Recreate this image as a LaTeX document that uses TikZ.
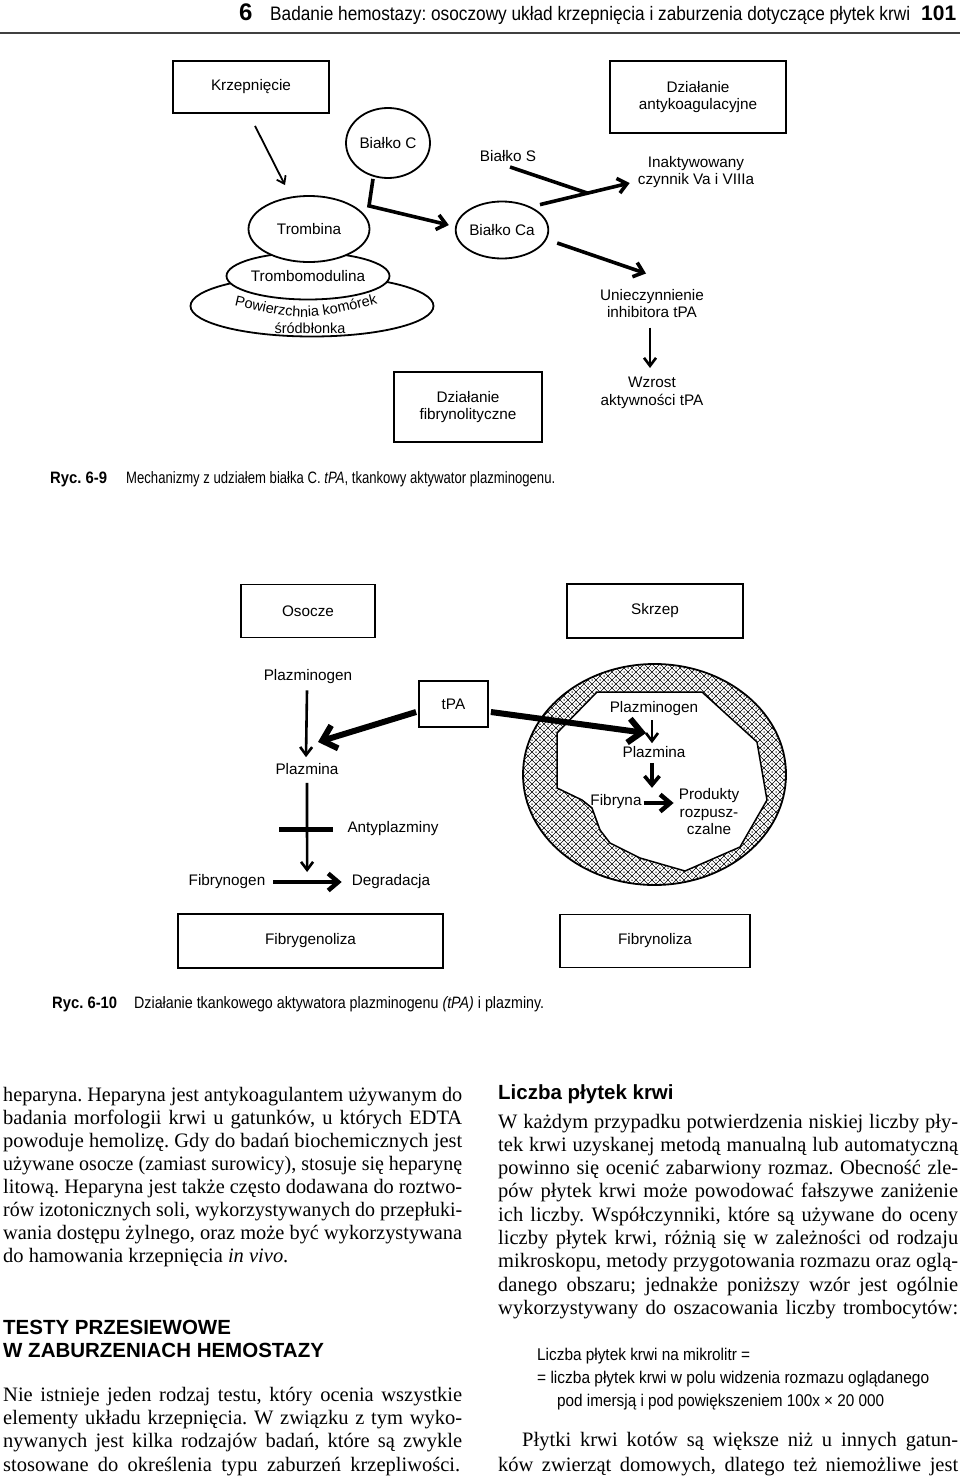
\documentclass[tikz,border=0pt]{standalone}
\usepackage{fontspec}
\usepackage{graphicx}
\setmainfont{Liberation Serif}
\newfontfamily\hv{Liberation Sans}
\usetikzlibrary{shapes.geometric,arrows.meta,calc,decorations.text}
\newcommand\dfont{\hv\fontsize{15.3}{17.5}\selectfont}
\newcommand\cfont{\hv\fontsize{14.5}{17}\selectfont}
\newcommand\bodyf{\rmfamily\fontsize{20.5}{23}\selectfont\frenchspacing}
\newcommand\headf{\hv\bfseries\fontsize{20.5}{23}\selectfont}
\newcommand\capf{\hv\fontsize{16.5}{18}\selectfont}
\newcommand\formf{\hv\fontsize{17}{19}\selectfont}
\newsavebox\lnbox
\newcommand\fitline[2]{\sbox\lnbox{#2}\ifdim\wd\lnbox>#1\relax\resizebox{#1}{\height}{\usebox\lnbox}\else\makebox[#1][s]{#2}\fi}
\newcommand\JL[4]{\node[anchor=base west,inner sep=0,font=\bodyf] (#1) at (#2) {\fitline{#3}{#4}};}
\newcommand\FL[4]{\node[anchor=base west,inner sep=0] (#1) at (#2) {\resizebox{#3}{\height}{#4}};}
\frenchspacing
\begin{document}
\begin{tikzpicture}[x=1pt,y=-1pt,
  lbl/.style={font=\dfont, inner sep=0, align=center},
  ell/.style={ellipse, draw, line width=1.8pt, fill=white, inner sep=0, font=\dfont},
  bx/.style={rectangle, draw, line width=1.8pt, fill=white, inner sep=0, font=\dfont, align=center},
  thinarr/.style={line width=1.8pt, -{Straight Barb[length=7pt,width=10pt]}},
  vline/.style={line width=2.6pt, -{Straight Barb[length=8pt,width=12pt]}},
  medarr/.style={line width=3.6pt, -{Straight Barb[length=9pt,width=15pt]}},
  fatarr/.style={line width=6pt, -{Straight Barb[length=13pt,width=24pt]}},
  midarr/.style={line width=4.5pt, -{Straight Barb[length=10pt,width=17pt]}}]
\useasboundingbox (0,0) rectangle (960,1477);
\fill[white] (0,0) rectangle (960,1477);

% ---------- header ----------
\node[anchor=base west,inner sep=0] (h6) at (239,21) {\hv\bfseries\fontsize{24}{24}\selectfont 6};
\FL{htxt}{270,21}{640pt}{\hv\fontsize{19.5}{20}\selectfont Badanie hemostazy: osoczowy układ krzepnięcia i zaburzenia dotyczące płytek krwi}
\FL{hnum}{921,21}{35pt}{\hv\bfseries\fontsize{21}{21}\selectfont 101}
\draw[line width=2pt, black!75] (0,33) -- (960,33);

% ---------- Ryc. 6-9 ----------
\node[bx, minimum width=156, minimum height=52] (krz) at (251,87) {Krzepnięcie};
\node[bx, minimum width=176, minimum height=72] (anty) at (698,97) {Działanie\\antykoagulacyjne};
\node[ell, minimum width=84, minimum height=70] (bc) at (388,143) {Białko C};
\node[lbl] (bs) at (508,156) {Białko S};
\node[lbl] (inakt) at (696,172) {Inaktywowany\\czynnik Va i VIIIa};
\node[ell, minimum width=243, minimum height=61] (pow) at (312,306) {};
\node[ell, minimum width=163, minimum height=47] (trmod) at (308,276) {Trombomodulina};
\node[ell, minimum width=121, minimum height=66] (tromb) at (309,229) {Trombina};
\node[ell, minimum width=92, minimum height=57] (bca) at (502,230) {Białko Ca};
\path[decorate, decoration={text along path, text align=center, text={|\cfont|Powierzchnia komórek}}] (224,303) .. controls (305,322) .. (388,301);
\node[font=\cfont, inner sep=0] (sr) at (310,328) {śródbłonka};
\node[lbl] (unie) at (652,303.5) {Unieczynnienie\\inhibitora tPA};
\node[lbl] (wzr) at (652,393) {Wzrost\\aktywności tPA};
\node[bx, minimum width=148, minimum height=70] (fibr) at (468,407) {Działanie\\fibrynolityczne};

\draw[thinarr] ($(krz.south)+(4,12)$) -- ($(tromb.north)+(-24,-10)$);
\draw[medarr] ($(bc.south)+(-15,0)$) -- ($(bc.south)+(-19,27)$) -- ($(bca.west)+(-6,-5)$);
\coordinate (caS) at ($(bca.north)+(38,4)$);
\coordinate (tipI) at ($(inakt.west)+(-8,11)$);
\coordinate (jS) at ($(caS)!0.53!(tipI)$);
\draw[medarr] (caS) -- (tipI);
\draw[line width=3.6pt] ($(bs.center)+(2,11)$) -- (jS);
\draw[medarr] ($(bca.east)+(8,13)$) -- ($(unie.center)+(-6,-30)$);
\draw[vline] ($(unie.center)+(-2,24)$) -- ($(wzr.center)+(-2,-25)$);

\node[anchor=base west,inner sep=0] (c1a) at (50,483) {\resizebox{57pt}{\height}{\capf\bfseries Ryc. 6-9}};
\node[anchor=base west,inner sep=0] (c1b) at (126,483) {\resizebox{429pt}{\height}{\capf Mechanizmy z udziałem białka C. \textit{tPA}, tkankowy aktywator plazminogenu.}};

% ---------- Ryc. 6-10 ----------
\node[bx, minimum width=134, minimum height=53] (osocze) at (308,611) {Osocze};
\node[bx, minimum width=176, minimum height=54] (skrzep) at (655,611) {Skrzep};

% clot ring
\begin{scope}
\clip (654.5,774.5) ellipse [x radius=131.5, y radius=110.5];
\foreach \k in {-32,...,34} {
  \draw[line width=0.55pt] (520+8*\k,660) -- ++(240,240);
  \draw[line width=0.55pt] (520+8*\k,900) -- ++(240,-240);
}
\foreach \a in {-16,...,18} {\foreach \b in {-15,...,14} {
  \fill (644+8*\a,780+8*\b) circle[radius=0.75];
  \fill (648+8*\a,784+8*\b) circle[radius=0.75];
}}
\end{scope}
\draw[line width=1.8pt] (654.5,774.5) ellipse [x radius=131.5, y radius=110.5];
\draw[line width=1.5pt, fill=white] (597,692) -- (702,692) -- (757,742) -- (767,800) -- (740,847) -- (685,871) -- (640,858) -- (610,843) -- (600,830) -- (592,808) -- (582,800) -- (557,788) -- (557,733) -- cycle;

\node[lbl] (pg1) at (308,677) {Plazminogen};
\node[bx, minimum width=69, minimum height=46] (tpa) at (453.5,704) {tPA};
\node[lbl] (pg2) at (654,709) {Plazminogen};
\node[lbl] (pz2) at (654,752) {Plazmina};
\node[lbl] (fib) at (616,802) {Fibryna};
\node[lbl] (prod) at (709,812) {Produkty\\rozpusz-\\czalne};
\node[lbl] (pz1) at (307,769) {Plazmina};
\node[lbl] (apl) at (393,829) {Antyplazminy};
\node[lbl] (fg) at (227,882) {Fibrynogen};
\node[lbl] (degr) at (391,882) {Degradacja};
\node[bx, minimum width=265, minimum height=54] (fgl) at (310.5,941) {Fibrygenoliza};
\node[bx, minimum width=190, minimum height=53] (fnl) at (655,941) {Fibrynoliza};

\draw[vline] ($(pg1.south)+(-1,6)$) -- ($(pz1.north)+(-1,-6)$);
\draw[fatarr] ($(tpa.west)+(-2,8)$) -- ($(pz1.center)+(11,-27)$);
\draw[fatarr] ($(tpa.east)+(2,8)$) -- ($(pg2.center)+(-8,24)$);
\coordinate (fdm) at ($(fg.east)!0.5!(degr.west)$);
\draw[vline] ($(pz1.south)+(0,8)$) -- ($(fdm)+(-1.5,-10)$);
\draw[line width=5pt] ($(apl.west)+(-68,0)$) -- ($(apl.west)+(-14,0)$);
\draw[midarr] ($(fg.east)+(8,0)$) -- ($(degr.west)+(-10,0)$);
\draw[vline] ($(pg2.south)+(-2,4)$) -- ($(pz2.north)+(-2,-3)$);
\coordinate (fpd) at ($(pz2.south)+(-2,30)$);
\draw[medarr] ($(pz2.south)+(-2,5)$) -- (fpd);
\draw[midarr] ($(fib.east)+(2,1)$) -- ($(prod.west)+(-5,-9)$);

\node[anchor=base west,inner sep=0] (c2a) at (52,1008) {\resizebox{65pt}{\height}{\capf\bfseries Ryc. 6-10}};
\node[anchor=base west,inner sep=0] (c2b) at (134,1008) {\resizebox{410pt}{\height}{\capf Działanie tkankowego aktywatora plazminogenu \textit{(tPA)} i plazminy.}};

% ---------- left column ----------
\JL{l1}{3,1101}{459pt}{heparyna. Heparyna jest antykoagulantem używanym do}
\JL{l2}{3,1124}{459pt}{badania morfologii krwi u gatunków, u których EDTA}
\JL{l3}{3,1147}{459pt}{powoduje hemolizę. Gdy do badań biochemicznych jest}
\JL{l4}{3,1170}{459pt}{używane osocze (zamiast surowicy), stosuje się heparynę}
\JL{l5}{3,1193}{459pt}{litową. Heparyna jest także często dodawana do roztwo-}
\JL{l6}{3,1216.5}{459pt}{rów izotonicznych soli, wykorzystywanych do przepłuki-}
\JL{l7}{3,1239.5}{459pt}{wania dostępu żylnego, oraz może być wykorzystywana}
\node[anchor=base west,inner sep=0,font=\bodyf] (l8) at (3,1262.5) {do hamowania krzepnięcia \textit{in vivo}.};

\node[anchor=base west,inner sep=0,font=\headf] (t1) at (3,1334) {TESTY PRZESIEWOWE};
\node[anchor=base west,inner sep=0,font=\headf] (t2) at (3,1357) {W ZABURZENIACH HEMOSTAZY};

\JL{n1}{3,1401}{459pt}{Nie istnieje jeden rodzaj testu, który ocenia wszystkie}
\JL{n2}{3,1424.3}{459pt}{elementy układu krzepnięcia. W związku z tym wyko-}
\JL{n3}{3,1447.6}{459pt}{nywanych jest kilka rodzajów badań, które są zwykle}
\JL{n4}{3,1471}{457pt}{stosowane do określenia typu zaburzeń krzepliwości.}

% ---------- right column ----------
\node[anchor=base west,inner sep=0,font=\headf] (rh) at (498,1099) {Liczba płytek krwi};
\JL{r1}{498,1128}{460pt}{W każdym przypadku potwierdzenia niskiej liczby pły-}
\JL{r2}{498,1151.3}{460pt}{tek krwi uzyskanej metodą manualną lub automatyczną}
\JL{r3}{498,1174.6}{460pt}{powinno się ocenić zabarwiony rozmaz. Obecność zle-}
\JL{r4}{498,1197.9}{460pt}{pów płytek krwi może powodować fałszywe zaniżenie}
\JL{r5}{498,1221.2}{460pt}{ich liczby. Współczynniki, które są używane do oceny}
\JL{r6}{498,1244.5}{460pt}{liczby płytek krwi, różnią się w zależności od rodzaju}
\JL{r7}{498,1267.8}{460pt}{mikroskopu, metody przygotowania rozmazu oraz oglą-}
\JL{r8}{498,1291.1}{460pt}{danego obszaru; jednakże poniższy wzór jest ogólnie}
\JL{r9}{498,1314.4}{460pt}{wykorzystywany do oszacowania liczby trombocytów:}

\FL{f1}{537,1360}{213pt}{\formf Liczba płytek krwi na mikrolitr =}
\FL{f2}{537,1383}{392pt}{\formf = liczba płytek krwi w polu widzenia rozmazu oglądanego}
\FL{f3}{557,1406}{327pt}{\formf pod imersją i pod powiększeniem 100x × 20 000}

\JL{p1}{522,1446}{436pt}{Płytki krwi kotów są większe niż u innych gatun-}
\JL{p2}{498,1471}{460pt}{ków zwierząt domowych, dlatego też niemożliwe jest}
\end{tikzpicture}
\end{document}
